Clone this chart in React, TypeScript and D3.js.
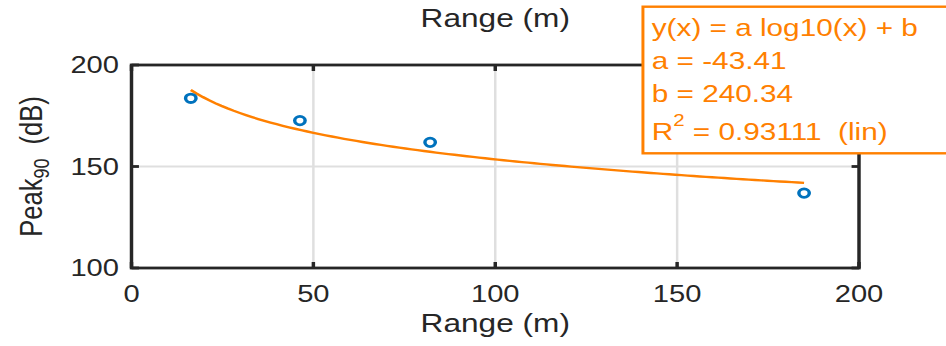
import React from 'react';
import * as d3 from 'd3';

// measured data points (range in m, peak90 in dB)
const rangeValues = [16.3, 46.3, 82.1, 184.9];
const peakValues = [183.6, 172.6, 161.9, 136.9];

// log10 fit parameters shown in the legend box
const fitA = -43.41;
const fitB = 240.34;
const fitR2 = '0.93111';

const xTicks = [0, 50, 100, 150, 200];
const yTicks = [100, 150, 200];

const WIDTH = 946;
const HEIGHT = 346;
// the reference figure is stretched horizontally
const SX = 1.24;
const innerW = WIDTH / SX;

const margin = { top: 65, left: 131.5 / SX, right: innerW - 859 / SX, bottom: HEIGHT - 268 };

const axisColor = '#262626';
const gridColor = '#dfdfdf';
const orange = '#ff8000';
const blue = '#0072bd';
const font = '"Liberation Sans", Arial, Helvetica, sans-serif';

const App = () => {
  const x = d3.scaleLinear().domain([0, 200]).range([margin.left, innerW - margin.right]);
  const y = d3.scaleLinear().domain([100, 200]).range([HEIGHT - margin.bottom, margin.top]);

  const x0 = x.range()[0];
  const x1 = x.range()[1];
  const yTop = y.range()[1];
  const yBot = y.range()[0];

  const xMin = d3.min(rangeValues);
  const xMax = d3.max(rangeValues);
  const fitXs = d3.range(0, 101).map(i => xMin + (xMax - xMin) * i / 100);
  const fitLine = d3.line()
    .x(d => x(d))
    .y(d => y(fitA * Math.log10(d) + fitB));

  const tickLen = 6;
  const midX = (x0 + x1) / 2;
  const midY = (yTop + yBot) / 2;

  return (
    <div style={{ position: 'fixed', left: 0, top: 0 }}>
      <svg width={WIDTH} height={HEIGHT} style={{ display: 'block', background: '#fff' }}>
        <g transform={`scale(${SX},1)`} fontFamily={font}>
          {/* grid */}
          {xTicks.slice(1, -1).map(t => (
            <line key={'gx' + t} x1={x(t)} x2={x(t)} y1={yTop} y2={yBot} stroke={gridColor} strokeWidth={2} />
          ))}
          {yTicks.slice(1, -1).map(t => (
            <line key={'gy' + t} x1={x0} x2={x1} y1={y(t)} y2={y(t)} stroke={gridColor} strokeWidth={2} />
          ))}

          {/* fit curve */}
          <path d={fitLine(fitXs)} fill="none" stroke={orange} strokeWidth={2.4} />

          {/* data markers */}
          {rangeValues.map((r, i) => (
            <circle key={'p' + i} cx={x(r)} cy={y(peakValues[i])} r={4.2} fill="none" stroke={blue} strokeWidth={2.8} />
          ))}

          {/* box + inward ticks */}
          <rect x={x0} y={yTop} width={x1 - x0} height={yBot - yTop} fill="none" stroke={axisColor} strokeWidth={2.8} />
          {xTicks.map(t => (
            <g key={'tx' + t}>
              <line x1={x(t)} x2={x(t)} y1={yBot} y2={yBot - tickLen} stroke={axisColor} strokeWidth={2.8} />
              <line x1={x(t)} x2={x(t)} y1={yTop} y2={yTop + tickLen} stroke={axisColor} strokeWidth={2.8} />
              <text x={x(t)} y={301.7} textAnchor="middle" fontSize={23.5} fill={axisColor}>{t}</text>
            </g>
          ))}
          {yTicks.map(t => (
            <g key={'ty' + t}>
              <line x1={x0} x2={x0 + tickLen} y1={y(t)} y2={y(t)} stroke={axisColor} strokeWidth={2.8} />
              <line x1={x1} x2={x1 - tickLen} y1={y(t)} y2={y(t)} stroke={axisColor} strokeWidth={2.8} />
              <text x={96} y={y(t) + 8.3} textAnchor="end" fontSize={23.5} fill={axisColor}>{t}</text>
            </g>
          ))}

          {/* axis labels */}
          <text x={midX} y={331.7} textAnchor="middle" fontSize={25.5} fill={axisColor}>Range (m)</text>
          <text x={midX} y={27.3} textAnchor="middle" fontSize={25.5} fill={axisColor}>Range (m)</text>
          <text transform={`translate(33.6,${midY}) rotate(-90)`} textAnchor="middle" fontSize={25.5} fill={axisColor} style={{ whiteSpace: 'pre' }}>
            Peak<tspan fontSize={18} dy={6}>90</tspan><tspan dy={-6}>{'  (dB)'}</tspan>
          </text>

          {/* fit legend box */}
          <rect x={518.5} y={6.7} width={300} height={146.6} fill="#fff" stroke={orange} strokeWidth={2.4} />
          <g fill={orange} fontSize={24}>
            <text x={525.6} y={36}>y(x) = a log10(x) + b</text>
            <text x={525.6} y={69.3}>a = {fitA.toFixed(2)}</text>
            <text x={525.6} y={101.7}>b = {fitB.toFixed(2)}</text>
            <text x={525.6} y={140} style={{ whiteSpace: 'pre' }}>
              R<tspan fontSize={16.5} dy={-14}>2</tspan><tspan dy={14}>{` = ${fitR2}  (lin)`}</tspan>
            </text>
          </g>
        </g>
      </svg>
    </div>
  );
};

export default App;
